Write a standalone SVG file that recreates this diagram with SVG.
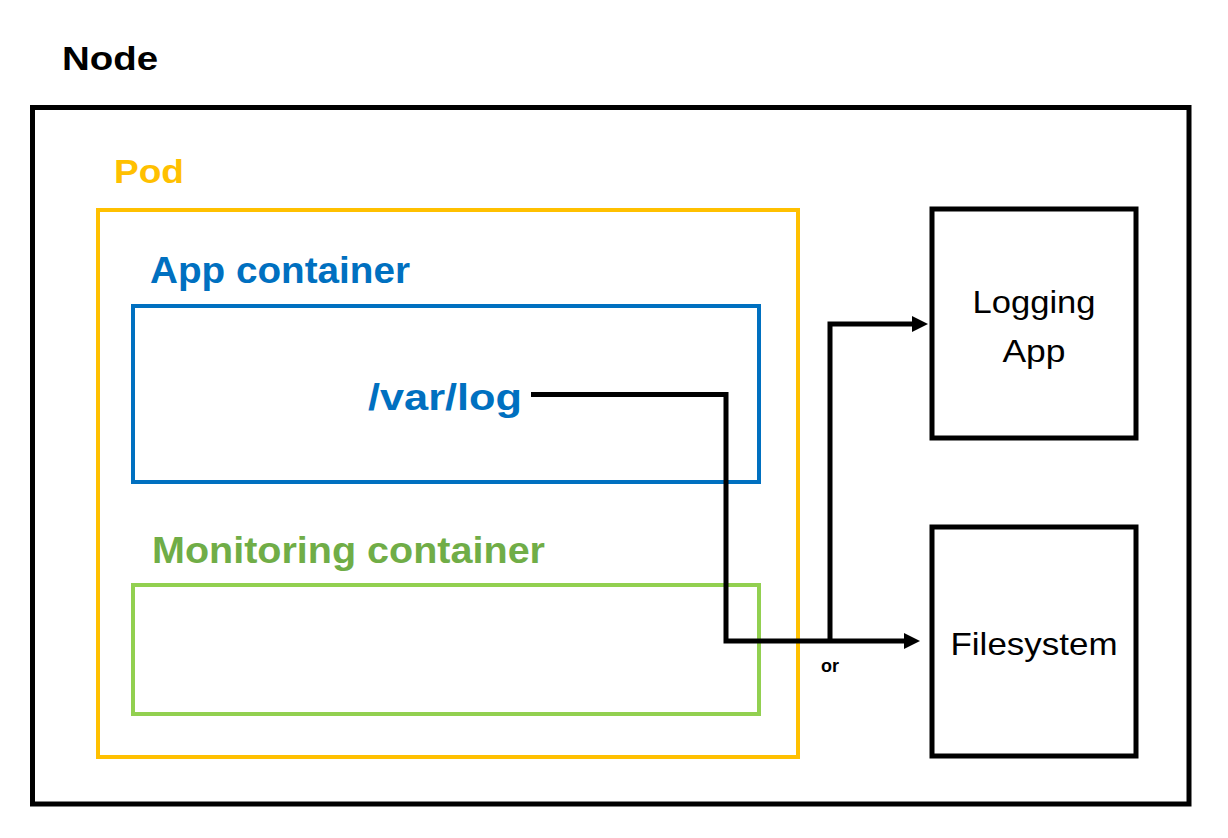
<svg xmlns="http://www.w3.org/2000/svg" width="1228" height="838" viewBox="0 0 1228 838">
<style>
text{font-family:"Liberation Sans",Arial,sans-serif}
.b{font-weight:bold}
.box{fill:none;stroke:#000;stroke-width:5}
.conn{fill:none;stroke:#000;stroke-width:5;stroke-linejoin:miter}
</style>
<defs>
<marker id="arr" markerWidth="6" markerHeight="6" refX="0" refY="3" orient="auto" markerUnits="userSpaceOnUse" viewBox="0 0 6 6" overflow="visible">
<path d="M0,-8 L16,0 L0,8 Z" transform="translate(0,3)" fill="#000"/>
</marker>
</defs>
<rect width="1228" height="838" fill="#fff"/>
<g id="node">
<text x="62" y="70" class="b" font-size="34" textLength="96" lengthAdjust="spacingAndGlyphs">Node</text>
<rect class="box" x="32.5" y="107.5" width="1156.5" height="696.5"/>
</g>
<g id="pod">
<text x="114" y="183" class="b" font-size="34" fill="#FFC000" textLength="70" lengthAdjust="spacingAndGlyphs">Pod</text>
<rect x="98" y="210" width="700" height="547" fill="none" stroke="#FFC000" stroke-width="4"/>
</g>
<g id="app-container">
<text x="150" y="283" class="b" font-size="36" fill="#0070C0" textLength="260" lengthAdjust="spacingAndGlyphs">App container</text>
<rect x="133" y="306" width="626" height="176" fill="none" stroke="#0070C0" stroke-width="4"/>
<text x="368" y="410" class="b" font-size="36" fill="#0070C0" textLength="154" lengthAdjust="spacingAndGlyphs">/var/log</text>
</g>
<g id="monitoring-container">
<text x="152" y="563" class="b" font-size="36" fill="#70AD47" textLength="393" lengthAdjust="spacingAndGlyphs">Monitoring container</text>
<rect x="133" y="585" width="626" height="129" fill="none" stroke="#92D050" stroke-width="4"/>
</g>
<g id="logging-app">
<rect class="box" x="932" y="209" width="204" height="229"/>
<text x="1034" y="313" font-size="32" text-anchor="middle" textLength="123" lengthAdjust="spacingAndGlyphs">Logging</text>
<text x="1034" y="362" font-size="32" text-anchor="middle" textLength="63" lengthAdjust="spacingAndGlyphs">App</text>
</g>
<g id="filesystem">
<rect class="box" x="932" y="527" width="204" height="229"/>
<text x="1034" y="655" font-size="32" text-anchor="middle" textLength="167" lengthAdjust="spacingAndGlyphs">Filesystem</text>
</g>
<g id="connectors">
<path class="conn" d="M531,394.5 H726 V641 H904" marker-end="url(#arr)"/>
<path class="conn" d="M830,641 V324 H912" marker-end="url(#arr)"/>
<text x="830" y="672" class="b" font-size="18" text-anchor="middle">or</text>
</g>
</svg>
